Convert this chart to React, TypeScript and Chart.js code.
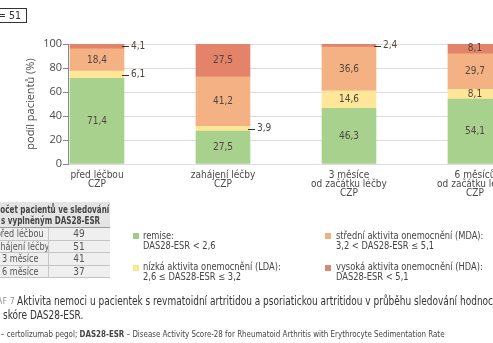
import React, { useEffect, useLayoutEffect, useRef, useState } from "react";
import { Chart, registerables } from "chart.js";

Chart.register(...registerables);

// ---------- data ----------
const categories: string[][] = [
  ["před léčbou", "CZP"],
  ["zahájení léčby", "CZP"],
  ["3 měsíce", "od začátku léčby", "CZP"],
  ["6 měsíců", "od začátku léčby", "CZP"],
];
const remise = [71.4, 27.5, 46.3, 54.1];
const lda = [6.1, 3.9, 14.6, 8.1];
const mda = [18.4, 41.2, 36.6, 29.7];
const hda = [4.1, 27.5, 2.4, 8.1];
const seriesNames = ["remise", "LDA", "MDA", "HDA"];
const yAxisTitle = "podíl pacientů (%)";

const tableHeader = ["Počet pacientů ve sledování", "s vyplněným DAS28-ESR"];
const tableRows = ["před léčbou", "zahájení léčby", "3 měsíce", "6 měsíce"];
const tableCounts = [49, 51, 41, 37];

const legendItems = [
  ["remise:", "DAS28-ESR < 2,6"],
  ["nízká aktivita onemocnění (LDA):", "2,6 ≤ DAS28-ESR ≤ 3,2"],
  ["střední aktivita onemocnění (MDA):", "3,2 < DAS28-ESR ≤ 5,1"],
  ["vysoká aktivita onemocnění (HDA):", "DAS28-ESR < 5,1"],
];

const NARROW = "'DejaVu Sans Condensed', sans-serif";
const TICKFONT = "'Open Sans', sans-serif";

const COLORS = ["#a9d18e", "#ffe699", "#f4b183", "#e2836a"];
const LEGEND_COLORS = ["#9fcd88", "#fde88c", "#f1b282", "#d98b73"];

const fmt = (v: number) => v.toFixed(1).replace(".", ",");

const labelPlugin = {
  id: "segLabels",
  afterDatasetsDraw(chart: any) {
    const ctx = chart.ctx;
    ctx.save();
    ctx.font = "10px " + NARROW;
    ctx.fillStyle = "#4f4740";
    ctx.textBaseline = "middle";
    chart.data.datasets.forEach((ds: any, di: number) => {
      const meta = chart.getDatasetMeta(di);
      meta.data.forEach((el: any, i: number) => {
        const v = ds.data[i].y as number;
        const p = el.getProps(["x", "y", "base", "width"], true);
        const top = Math.max(p.y, chart.chartArea.top);
        const cy = (top + p.base) / 2;
        const txt = fmt(v);
        if (v >= 7) {
          ctx.textAlign = "center";
          ctx.fillText(txt, p.x, cy);
        } else {
          const r = p.x + p.width / 2;
          ctx.strokeStyle = "#333";
          ctx.lineWidth = 1;
          ctx.beginPath();
          ctx.moveTo(r - 2, Math.round(cy) + 0.5);
          ctx.lineTo(r + 5, Math.round(cy) + 0.5);
          ctx.stroke();
          ctx.textAlign = "left";
          ctx.fillText(txt, r + 7, cy);
        }
      });
    });
    ctx.restore();
  },
};

function ChartCanvas() {
  const ref = useRef<HTMLCanvasElement | null>(null);
  useEffect(() => {
    if (!ref.current) return;
    const series = [remise, lda, mda, hda];
    const chart = new Chart(ref.current, {
      type: "bar",
      data: {
        datasets: series.map((arr, si) => ({
          label: seriesNames[si],
          data: arr.map((v, i) => ({ x: i, y: v })),
          backgroundColor: COLORS[si],
          borderWidth: 0,
          barThickness: 54,
        })),
      } as any,
      options: {
        responsive: false,
        animation: false,
        devicePixelRatio: 1,
        layout: { padding: { left: 20, top: 44, right: 0, bottom: 0 } },
        plugins: { legend: { display: false }, tooltip: { enabled: false } },
        scales: {
          x: {
            type: "linear",
            stacked: true,
            offset: false,
            min: -0.23,
            max: 3.143,
            afterBuildTicks: (s: any) => {
              s.ticks = [0, 1, 2, 3].map((v) => ({ value: v }));
            },
            afterFit: (s: any) => {
              s.height = 51;
              s.paddingLeft = 0;
              s.paddingRight = 0;
            },
            grid: { display: false },
            border: { display: false },
            ticks: {
              autoSkip: false,
              maxRotation: 0,
              padding: -1,
              color: "#4a4a4a",
              font: { family: NARROW, size: 10, lineHeight: 0.88 },
              callback: (_v: any, idx: number) => categories[idx],
            },
          },
          y: {
            stacked: true,
            min: 0,
            max: 100,
            afterFit: (s: any) => {
              s.width = 48;
            },
            ticks: {
              stepSize: 10,
              padding: 1,
              color: "#4a4a4a",
              font: { family: TICKFONT, size: 11 },
            },
            grid: { color: "#dcdcdc", tickLength: 5, tickColor: "#8a8a8a" },
            border: { color: "#8a8a8a" },
            title: {
              display: true,
              text: yAxisTitle,
              color: "#4a4a4a",
              font: { family: TICKFONT, size: 11 },
              padding: { top: 4, bottom: 0 },
            },
          },
        },
      } as any,
      plugins: [labelPlugin],
    });
    return () => chart.destroy();
  }, []);
  return (
    <canvas
      ref={ref}
      width={493}
      height={215}
      style={{ position: "absolute", left: 0, top: 0, width: 493, height: 215 }}
    />
  );
}

const abs = (o: React.CSSProperties): React.CSSProperties => ({ position: "absolute", whiteSpace: "nowrap", ...o });
const sx = (k: number): React.CSSProperties => ({ transform: `scaleX(${k})`, transformOrigin: "0 0" });

// measure a reference span and return the horizontal squeeze that fits it into `target` px
function useFit(target: number) {
  const ref = useRef<HTMLSpanElement | null>(null);
  const [k, setK] = useState(1);
  useLayoutEffect(() => {
    if (ref.current) {
      const w = ref.current.offsetWidth;
      if (w > 0) setK(target / w);
    }
  }, [target]);
  return [ref, k] as const;
}

function usePrefixWidth() {
  const ref = useRef<HTMLSpanElement | null>(null);
  const [w, setW] = useState(0);
  useLayoutEffect(() => {
    if (ref.current) setW(ref.current.offsetWidth);
  }, []);
  return [ref, w] as const;
}

export default function App() {
  const [legRef, kLeg] = useFit(147);
  const [hdrRef, kHdr] = useFit(109);
  const [hdrPre, hdrPreW] = usePrefixWidth();
  const [capRef, kCap] = useFit(440);
  const [ftRef, kFt] = useFit(444);
  const [ftPre, ftPreW] = usePrefixWidth();

  const legendPos = [
    { sq: [133, 233], tx: [143, 231] },
    { sq: [133, 265], tx: [143, 262] },
    { sq: [325, 233], tx: [336, 231] },
    { sq: [325, 265], tx: [336, 262] },
  ];
  const hdrStyle: React.CSSProperties = { fontSize: 10, lineHeight: "11px", fontWeight: 700, color: "#444" };
  return (
    <div
      style={{
        position: "fixed",
        left: 0,
        top: 0,
        width: 493,
        height: 343,
        overflow: "hidden",
        background: "#fff",
        fontFamily: NARROW,
        color: "#4a4a4a",
      }}
    >
      <ChartCanvas />

      {/* n box */}
      <div
        style={abs({
          left: -20,
          top: 8,
          width: 47,
          height: 15,
          boxSizing: "border-box",
          border: "1px solid #333",
          fontSize: 10.5,
          lineHeight: "13px",
          textAlign: "right",
          paddingRight: 5,
          color: "#333",
        })}
      >
        n = 51
      </div>

      {/* table */}
      <div style={abs({ left: 0, top: 202, width: 110, height: 25, background: "#e4e4e4" })} />
      <div style={abs({ left: 1 - hdrPreW * kHdr, top: 204, ...hdrStyle, ...sx(kHdr) })}>
        <span ref={hdrPre}>{tableHeader[0].slice(0, 1)}</span>
        <span ref={hdrRef}>{tableHeader[0].slice(1)}</span>
      </div>
      <div style={abs({ left: 1, top: 215, ...hdrStyle, ...sx(kHdr) })}>{tableHeader[1]}</div>
      <div style={abs({ left: 0, top: 227, width: 110, height: 1, background: "#9a9a9a" })} />
      {tableRows.map((r, i) => (
        <React.Fragment key={r}>
          <div
            style={abs({
              left: 0,
              top: 228 + i * 12.6,
              width: 110,
              height: 11.6,
              background: "#efefef",
              borderBottom: "1px solid #c4c4c4",
            })}
          />
          <div
            style={abs({
              left: -8,
              top: 228 + i * 12.6,
              width: 56,
              display: "flex",
              justifyContent: "center",
              fontSize: 10,
              lineHeight: "12px",
              color: "#555",
            })}
          >
            <span style={{ display: "inline-block", transform: "scaleX(0.9)" }}>{r}</span>
          </div>
          <div
            style={abs({
              left: 48,
              top: 228 + i * 12.6,
              width: 62,
              textAlign: "center",
              fontSize: 10,
              lineHeight: "12px",
              color: "#555",
            })}
          >
            {tableCounts[i]}
          </div>
        </React.Fragment>
      ))}
      <div style={abs({ left: 48, top: 228, width: 1, height: 50, background: "#c8c8c8" })} />

      {/* legend */}
      {legendItems.map((it, i) => (
        <React.Fragment key={i}>
          <div
            style={abs({
              left: legendPos[i].sq[0],
              top: legendPos[i].sq[1],
              width: 6,
              height: 6,
              background: LEGEND_COLORS[i],
            })}
          />
          <div
            style={abs({
              left: legendPos[i].tx[0],
              top: legendPos[i].tx[1],
              fontSize: 10,
              lineHeight: "9.5px",
              color: "#444",
              ...sx(kLeg),
            })}
          >
            {i === 2 ? <span ref={legRef}>{it[0]}</span> : it[0]}
            <br />
            {it[1]}
          </div>
        </React.Fragment>
      ))}

      {/* caption */}
      <div style={abs({ left: -14, top: 297, fontSize: 8, lineHeight: "10px", color: "#888", letterSpacing: 0.5 })}>
        GRAF 7
      </div>
      <div style={abs({ left: 17, top: 295, fontSize: 11.5, lineHeight: "13px", color: "#333", ...sx(kCap) })}>
        <span ref={capRef}>
          Aktivita nemoci u pacientek s revmatoidní artritidou a psoriatickou artritidou v průběhu sledování
        </span>{" "}
        hodnocená pomocí
      </div>
      <div style={abs({ left: 3, top: 309, fontSize: 11.5, lineHeight: "13px", color: "#333", ...sx(kCap) })}>
        skóre DAS28-ESR.
      </div>
      <div style={abs({ left: 1 - ftPreW * kFt, top: 329, fontSize: 8.5, lineHeight: "10px", color: "#444", ...sx(kFt) })}>
        <span ref={ftPre}>
          <b>CZP</b>{" "}
        </span>
        <span ref={ftRef}>
          – certolizumab pegol; <b>DAS28-ESR</b> – Disease Activity Score-28 for Rheumatoid Arthritis with Erythrocyte
          Sedimentation Rate
        </span>
      </div>
    </div>
  );
}
